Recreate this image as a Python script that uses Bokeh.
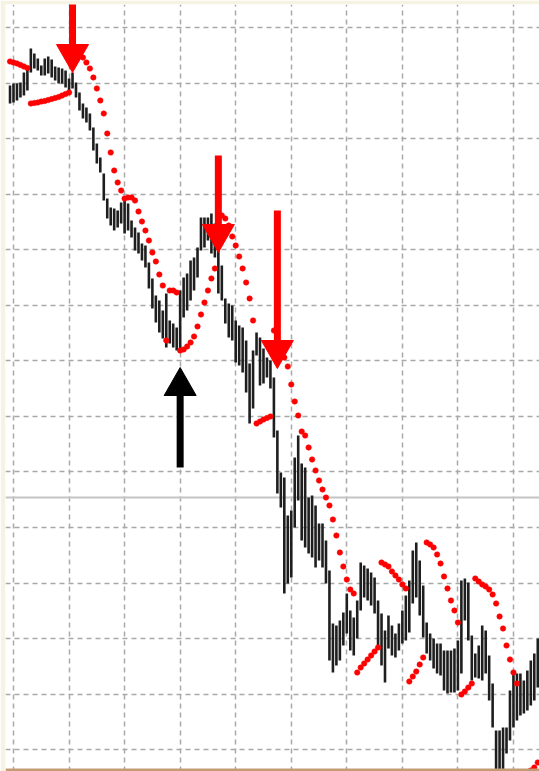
from bokeh.plotting import figure
from bokeh.models import Range1d, FixedTicker, Span, ColumnDataSource, Grid, BoxAnnotation
from bokeh.embed import file_html
from bokeh.resources import INLINE

# ---- data (price points; one bar per index) ----
high = [715, 717, 717, 718, 728, 732, 752, 747, 742, 735,
        742, 744, 741, 734, 733, 732, 730, 722, 728, 718,
        708, 697, 693, 687, 673, 657, 643, 627, 602, 593,
        592, 590, 598, 600, 597, 580, 573, 568, 557, 555,
        538, 522, 505, 500, 490, 507, 480, 477, 473, 510,
        523, 527, 540, 543, 553, 583, 583, 583, 587, 577,
        573, 535, 502, 497, 495, 480, 475, 473, 460, 437,
        450, 468, 463, 452, 443, 440, 423, 370, 328, 323,
        285, 290, 343, 365, 337, 333, 303, 305, 295, 277,
        277, 260, 230, 177, 175, 180, 188, 207, 190, 183,
        200, 238, 235, 232, 228, 223, 200, 187, 170, 185,
        175, 167, 177, 190, 205, 220, 250, 258, 240, 215,
        178, 167, 162, 157, 157, 150, 150, 150, 152, 160,
        220, 222, 218, 165, 147, 155, 175, 170, 145, 117,
        70, 70, 73, 73, 110, 127, 127, 127, 120, 130,
        140, 147, 162]

low = [697, 698, 700, 703, 705, 710, 728, 732, 730, 725,
       725, 727, 723, 720, 717, 717, 713, 708, 712, 703,
       690, 682, 678, 670, 650, 637, 628, 600, 582, 575,
       570, 573, 577, 567, 570, 563, 550, 547, 540, 533,
       512, 492, 478, 468, 462, 453, 457, 453, 450, 452,
       483, 490, 500, 510, 523, 550, 553, 560, 547, 543,
       507, 500, 477, 463, 460, 438, 435, 428, 408, 377,
       392, 445, 415, 417, 423, 412, 363, 307, 293, 207,
       217, 223, 273, 300, 260, 253, 247, 243, 233, 240,
       233, 217, 140, 128, 135, 140, 155, 167, 150, 145,
       162, 190, 203, 200, 195, 187, 155, 135, 118, 152,
       145, 143, 150, 157, 160, 168, 197, 203, 185, 163,
       147, 140, 132, 127, 125, 110, 107, 108, 108, 110,
       127, 180, 160, 120, 123, 122, 120, 127, 100, 73,
       25, 25, 25, 47, 60, 73, 80, 85, 87, 90,
       95, 100, 113]

sar = [739, 738, 737, 735.5, 734, 732.5, 697, 697.5, 698, 699,
       699.5, 700.5, 701.5, 702.5, 703.5, 705, 706.5, 708, 752, 750,
       747, 743, 738, 732, 723, 712, 700, 687, 667, 648,
       630, 618, 610, 602, 603, 603, 600, 589, 579, 570,
       560, 548, 539, 526, 515, 460, 510, 510, 508, 450,
       451, 454, 458, 464, 474, 486, 498, 510, 522, 532,
       587, 585, 582, 575, 564, 555, 544, 532, 518, 502,
       480, 377, 379, 381, 382.5, 384, 470, 460, 450, 443,
       434, 416, 399, 385, 369, 365, 353, 341, 330, 320,
       311, 303, 295, 281, 265, 248, 234, 221, 211, 207,
       128, 133, 137, 141, 145, 149, 153, 238, 236, 234,
       229, 225, 221, 216, 212, 119, 124, 129, 136, 143,
       258, 256, 253, 246, 237, 224, 212, 200, 190, 178,
       106, 109, 113, 117, 222, 219, 216, 214, 211, 206,
       197, 184, 172, 155, 141, 128, 117, 25, 26, 28,
       30, 33, 38]

bar_index = list(range(len(high)))

# signals
sell_index = [18, 60, 77]
sell_tip = [728, 548, 432]
sell_tail = [810, 645, 590]
buy_index = [49]
buy_tip = [433]
buy_tail = [333]

level_price = 303

# ---- layout / style ----
W, H = 539, 771
LEFT, TOP = 5, 4
FRAME_W, FRAME_H = W - LEFT, H - TOP
X0, X1 = -1.305, 152.5
Y0, Y1 = 29, 796
px_x = FRAME_W / (X1 - X0)
px_y = FRAME_H / (Y1 - Y0)
HEAD_HALF_W = 16 / px_x
HEAD_H = 28 / px_y

p = figure(width=W, height=H, x_range=Range1d(X0, X1), y_range=Range1d(Y0, Y1),
           output_backend="svg", toolbar_location=None,
           x_axis_location=None, y_axis_location=None,
           min_border_left=LEFT, min_border_right=0, min_border_top=TOP,
           min_border_bottom=0, background_fill_color="white",
           border_fill_color="#f7f3e3", outline_line_color=None)

p.center = [r for r in p.center if not isinstance(r, Grid)]

GRID_BARS = 16
GRID_PRICE = 55.55
xticks = [1 + GRID_BARS * k for k in range(10)]
yticks = [773 - GRID_PRICE * k for k in range(14)]
for dim, ticks in ((0, xticks), (1, yticks)):
    g = Grid(dimension=dim, ticker=FixedTicker(ticks=ticks),
             grid_line_color="#a8a8a8", grid_line_dash="5 4", grid_line_width=1.5)
    p.add_layout(g)

p.add_layout(Span(location=level_price, dimension="width", line_color="#c4c4c4",
                  line_width=2, level="underlay"))

src = ColumnDataSource(dict(i=bar_index, high=high, low=low, sar=sar))
p.segment(x0="i", y0="low", x1="i", y1="high", source=src,
          line_color="#1e1e1e", line_width=2.6)
p.scatter(x="i", y="sar", source=src, size=5.5, fill_color="#ff0000",
          line_color="#ff0000", line_width=0.5)

# sell arrows (red, pointing down)
p.segment(x0=sell_index, y0=sell_tail, x1=sell_index,
          y1=[t + HEAD_H for t in sell_tip], line_color="#ff0000",
          line_width=7, line_cap="butt")
p.patches(xs=[[i - HEAD_HALF_W, i + HEAD_HALF_W, i] for i in sell_index],
          ys=[[t + HEAD_H, t + HEAD_H, t] for t in sell_tip],
          fill_color="#ff0000", line_color="#ff0000", line_width=1)

# buy arrow (black, pointing up)
p.segment(x0=buy_index, y0=buy_tail, x1=buy_index,
          y1=[t - HEAD_H for t in buy_tip], line_color="#000000",
          line_width=7, line_cap="butt")
p.patches(xs=[[i - HEAD_HALF_W, i + HEAD_HALF_W, i] for i in buy_index],
          ys=[[t - HEAD_H, t - HEAD_H, t] for t in buy_tip],
          fill_color="#000000", line_color="#000000", line_width=1)

# bottom edge strip of the chart window
p.add_layout(BoxAnnotation(bottom=Y0, top=Y0 + 3 / px_y, fill_color="#c49c74",
                           fill_alpha=1, line_color=None))

open("out.html", "w").write(file_html(p, INLINE))
